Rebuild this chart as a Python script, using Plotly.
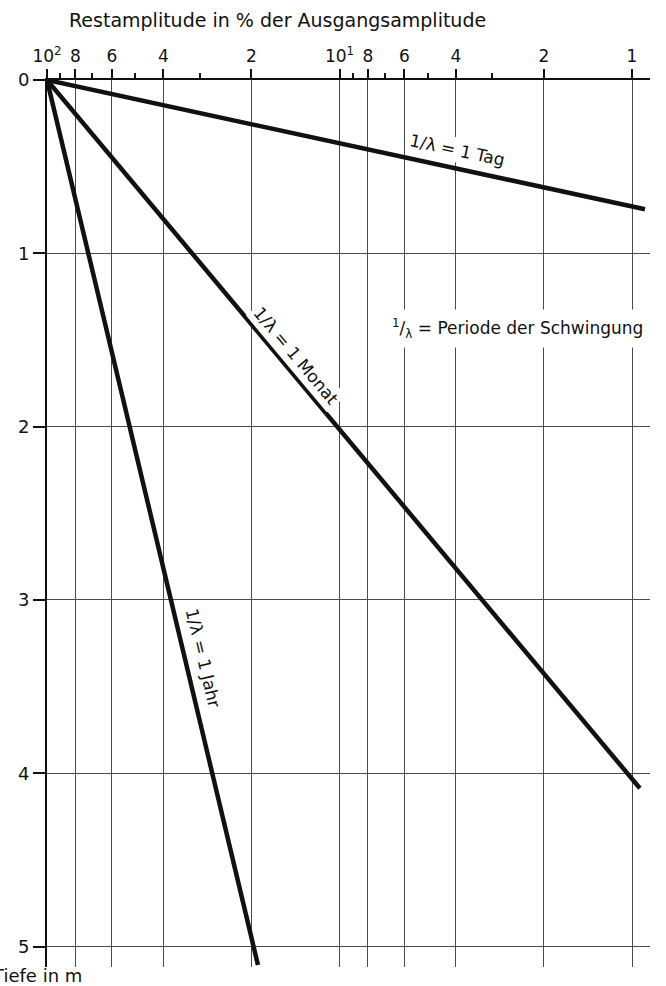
import math
import plotly.graph_objects as go

# Residual amplitude (% of initial amplitude) versus depth for three periods
periods = ["1 Tag", "1 Monat", "1 Jahr"]
amp_start = [100.0, 100.0, 100.0]
depth_start = [0.0, 0.0, 0.0]
amp_end = [0.903, 0.94, 19.0]
depth_end = [0.746, 4.087, 5.107]

# Label placement along each line (fraction of the line) and pixel offset
label_frac = [0.679, 0.403, 0.658]
label_shift = [(4, 18), (10, 9), (17, 4)]

# Top axis ticks
x_tickvals = [100, 80, 60, 40, 20, 10, 8, 6, 4, 2, 1]
x_ticktext = ["10<sup>2</sup>", "8", "6", "4", "2", "10<sup>1</sup>", "8", "6", "4", "2", "1"]
x_minor = [90, 70, 50, 30, 9, 7, 5, 3]
y_tickvals = [0, 1, 2, 3, 4, 5]

W, H = 666, 986
L, R, T, B = 47, 650, 80, 967
decade_px = 292.5
meter_px = 173.3
x_range = [2.0, 2.0 - (R - L) / decade_px]
y_range = [(B - T) / meter_px, 0.0]

FONT = "DejaVu Sans"
INK = "#111111"
GRID = "#4a4a4a"

fig = go.Figure()

for i, name in enumerate(periods):
    fig.add_trace(go.Scatter(
        x=[amp_start[i], amp_end[i]],
        y=[depth_start[i], depth_end[i]],
        mode="lines",
        line=dict(color=INK, width=4.5),
        showlegend=False,
        hoverinfo="skip",
    ))

annotations = []
for i, name in enumerate(periods):
    lx0, lx1 = math.log10(amp_start[i]), math.log10(amp_end[i])
    t = label_frac[i]
    ax = lx0 + t * (lx1 - lx0)
    ay = depth_start[i] + t * (depth_end[i] - depth_start[i])
    dx_px = (lx0 - lx1) * decade_px
    dy_px = (depth_end[i] - depth_start[i]) * meter_px
    angle = math.degrees(math.atan2(dy_px, dx_px))
    annotations.append(dict(
        x=ax, y=ay, xref="x", yref="y",
        text="1/λ = " + name,
        showarrow=False, textangle=angle,
        xshift=label_shift[i][0], yshift=label_shift[i][1],
        font=dict(family=FONT, size=17, color=INK),
        bgcolor="white", borderpad=2,
    ))

annotations.append(dict(
    x=2.0 - (517 - L) / decade_px, y=(328 - T) / meter_px,
    xref="x", yref="y",
    text="<sup>1</sup>/<sub>λ</sub> = Periode der Schwingung",
    showarrow=False,
    font=dict(family=FONT, size=17, color=INK),
    bgcolor="white", borderpad=6,
))

annotations.append(dict(
    x=(277 - L) / (R - L), y=(B - 20) / (B - T),
    xref="paper", yref="paper", yanchor="middle",
    text="Restamplitude in % der Ausgangsamplitude",
    showarrow=False,
    font=dict(family=FONT, size=19, color=INK),
))

annotations.append(dict(
    x=(84 - L) / (R - L), y=(B - 975) / (B - T),
    xref="paper", yref="paper",
    xanchor="right", yanchor="middle",
    text="Tiefe in m",
    showarrow=False,
    font=dict(family=FONT, size=18, color=INK),
))

fig.update_layout(
    width=W, height=H,
    margin=dict(l=L, r=W - R, t=T, b=H - B, pad=0),
    paper_bgcolor="white", plot_bgcolor="white",
    annotations=annotations,
    font=dict(family=FONT, size=17, color=INK),
)

fig.update_xaxes(
    type="log", range=x_range, side="top",
    tickmode="array", tickvals=x_tickvals, ticktext=x_ticktext,
    ticks="outside", ticklen=9, tickwidth=2, tickcolor=INK,
    tickfont=dict(family=FONT, size=17, color=INK),
    showgrid=True, gridcolor=GRID, gridwidth=1,
    showline=True, linecolor=INK, linewidth=2,
    zeroline=False,
    minor=dict(tickmode="array", tickvals=x_minor, ticks="outside",
               ticklen=5, tickwidth=1.5, tickcolor=INK, showgrid=False),
)

fig.update_yaxes(
    range=y_range,
    tickmode="array", tickvals=y_tickvals,
    ticks="outside", ticklen=12, tickwidth=2, tickcolor=INK,
    tickfont=dict(family=FONT, size=18, color=INK),
    showgrid=True, gridcolor=GRID, gridwidth=1,
    showline=True, linecolor=INK, linewidth=2,
    zeroline=False,
)

fig.write_html("out.html")
